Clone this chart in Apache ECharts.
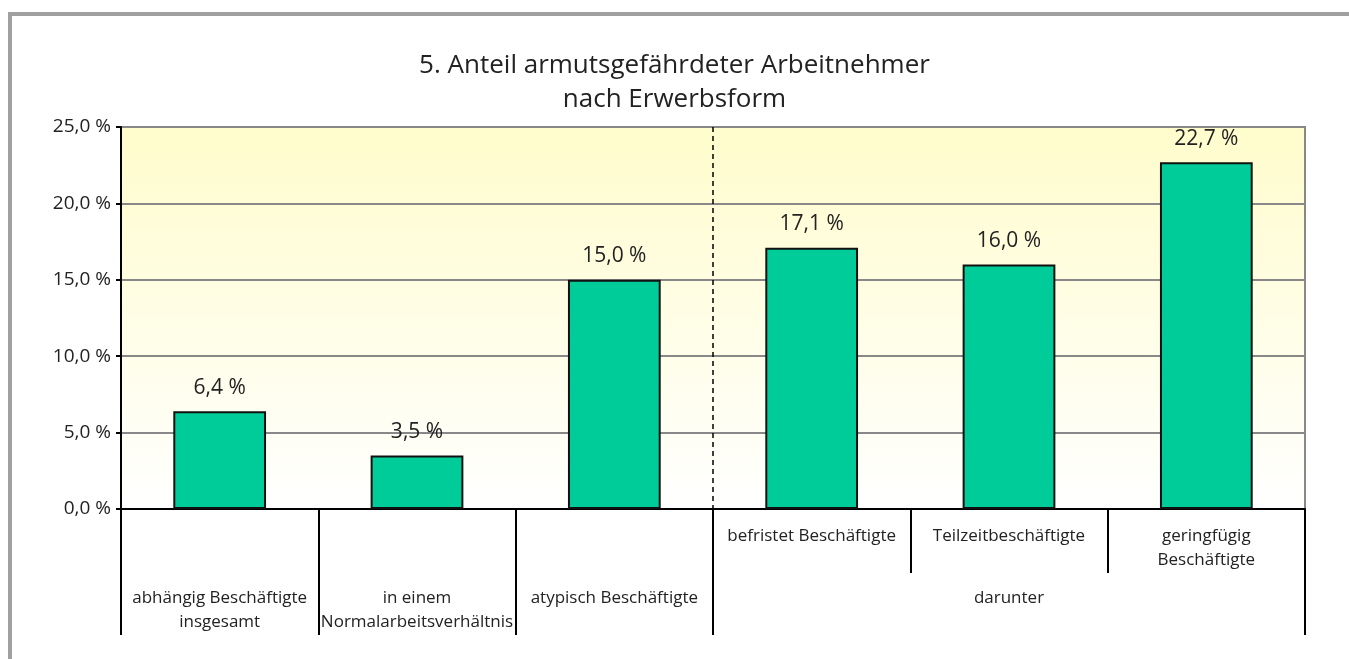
<!DOCTYPE html>
<html>
<head>
<meta charset="utf-8">
<script src="https://cdn.jsdelivr.net/npm/echarts@6/dist/echarts.min.js"></script>
<style>
  html, body { margin: 0; padding: 0; background: #fff; }
  #frame {
    position: absolute; left: 8px; top: 12px; right: -10px; bottom: -10px;
    border-top: 4px solid #a0a0a0; border-left: 4px solid #a0a0a0;
  }
  #chart { position: absolute; left: 0; top: 0; width: 1349px; height: 659px; }
</style>
</head>
<body>
<div id="frame"></div>
<div id="chart"></div>
<script>
const categories = [
  'abhängig Beschäftigte\ninsgesamt',
  'in einem\nNormalarbeitsverhältnis',
  'atypisch Beschäftigte',
  'befristet Beschäftigte',
  'Teilzeitbeschäftigte',
  'geringfügig\nBeschäftigte'
]
const values = [6.4, 3.5, 15.0, 17.1, 16.0, 22.7]
const groupLabel = 'darunter'
const titleText = '5. Anteil armutsgefährdeter Arbeitnehmer\nnach Erwerbsform'

const fmt = v => v.toFixed(1).replace('.', ',') + ' %'
const font = '"Open Sans", "Noto Sans", sans-serif'
const ink = '#222'

const chart = echarts.init(document.getElementById('chart'))

chart.setOption({
  animation: false,
  textStyle: { fontFamily: font },
  title: {
    text: titleText,
    left: 'center',
    top: 44,
    textStyle: { fontSize: 26, fontWeight: 'normal', color: ink, lineHeight: 34, fontFamily: font }
  },
  grid: {
    left: 121, right: 44, top: 127, bottom: 150,
    show: true,
    borderColor: '#888',
    borderWidth: 2,
    backgroundColor: new echarts.graphic.LinearGradient(0, 0, 0, 1, [
      { offset: 0, color: '#fffccc' },
      { offset: 1, color: '#ffffff' }
    ])
  },
  xAxis: [
    {
      // long separators + lower label row
      type: 'category',
      data: categories,
      position: 'bottom',
      axisLine: { show: true, lineStyle: { color: '#000', width: 2 } },
      axisTick: {
        show: true,
        length: 126,
        interval: (i) => i <= 3,
        lineStyle: { color: '#000', width: 2 }
      },
      axisLabel: {
        interval: (i) => i <= 2 || i === 4,
        formatter: (v, i) => (i === 4 ? groupLabel : v),
        margin: 77,
        fontSize: 17,
        lineHeight: 24,
        color: ink
      }
    },
    {
      // short separators + upper label row ("darunter" group)
      type: 'category',
      data: categories,
      position: 'bottom',
      axisLine: { show: false },
      axisTick: {
        show: true,
        length: 64,
        interval: (i) => i >= 4,
        lineStyle: { color: '#000', width: 2 }
      },
      axisLabel: {
        interval: (i) => i >= 3,
        margin: 15,
        fontSize: 17,
        lineHeight: 24,
        color: ink
      }
    },
    {
      // dashed divider between the groups
      type: 'value',
      min: 0,
      max: 6,
      interval: 3,
      position: 'bottom',
      axisLine: { show: false },
      axisTick: { show: false },
      axisLabel: { show: false },
      splitLine: {
        show: true,
        showMinLine: false,
        showMaxLine: false,
        lineStyle: { color: '#000', width: 1.5, type: [5, 4] }
      }
    }
  ],
  yAxis: {
    type: 'value',
    min: 0,
    max: 25,
    interval: 5,
    axisLine: { show: true, lineStyle: { color: '#000', width: 2 } },
    axisTick: { show: true, length: 5, lineStyle: { color: '#000', width: 2 } },
    axisLabel: { formatter: fmt, fontSize: 19, color: ink, margin: 10 },
    splitLine: { show: true, lineStyle: { color: '#888', width: 2 } }
  },
  series: [{
    type: 'bar',
    xAxisIndex: 0,
    data: values,
    barWidth: '47%',
    itemStyle: { color: '#00cc99', borderColor: '#111', borderWidth: 2 },
    label: {
      show: true,
      position: 'top',
      distance: 13,
      formatter: p => fmt(p.value),
      fontSize: 21,
      color: ink
    }
  }]
})
</script>
</body>
</html>
